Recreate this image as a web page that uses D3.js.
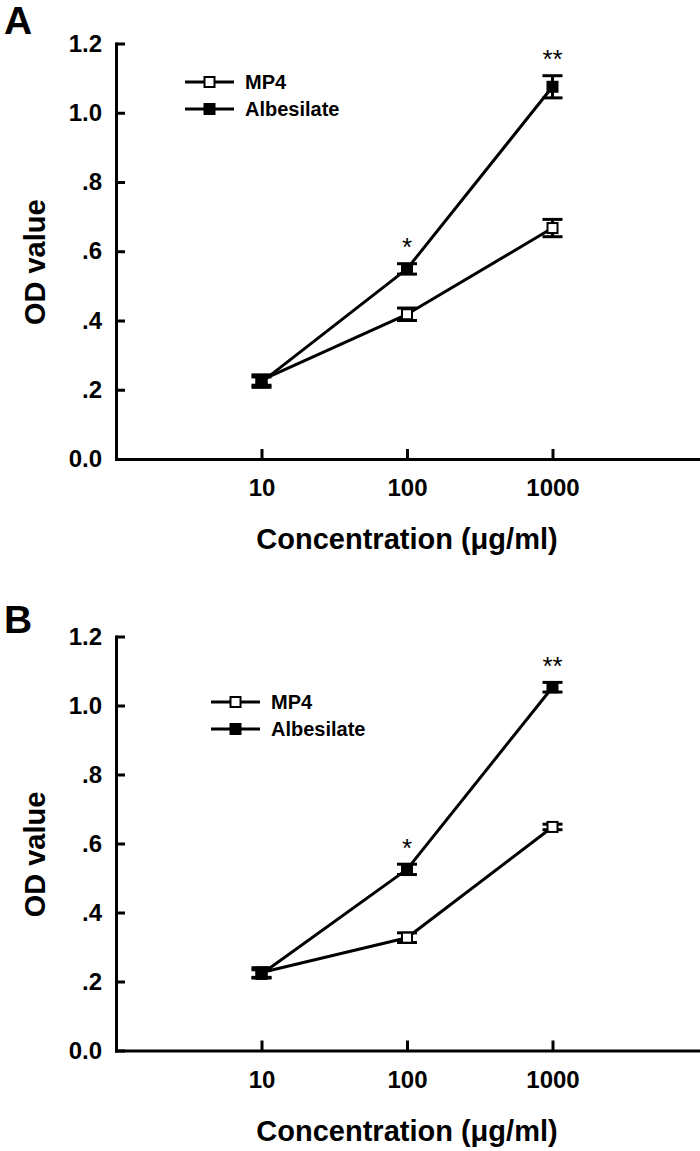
<!DOCTYPE html>
<html>
<head>
<meta charset="utf-8">
<script src="https://cdn.jsdelivr.net/npm/d3@7"></script>
<style>
  html, body { margin: 0; padding: 0; background: #fff; }
  svg { display: block; }
  text { font-family: "Liberation Sans", Arial, Helvetica, sans-serif; }
</style>
</head>
<body>
<svg id="chart" width="700" height="1151"></svg>
<script>
// ---------- data ----------
const concentrations = [10, 100, 1000];
const xTickValues = [10, 100, 1000];
const xTickLabels = ["10", "100", "1000"];
const yTickValues = [0, 0.2, 0.4, 0.6, 0.8, 1.0, 1.2];
const yTickLabels = ["0.0", ".2", ".4", ".6", ".8", "1.0", "1.2"];
const seriesNames = ["MP4", "Albesilate"];
const panelLabels = ["A", "B"];
const xTitle = "Concentration (\u03BCg/ml)";
const yTitle = "OD value";

// Panel A
const mp4A = [0.228, 0.418, 0.667];
const mp4ErrA = [0.015, 0.018, 0.025];
const albA = [0.222, 0.549, 1.075];
const albErrA = [0.015, 0.015, 0.032];
const sigA = ["", "*", "**"];

// Panel B
const mp4B = [0.226, 0.327, 0.648];
const mp4ErrB = [0.014, 0.014, 0.008];
const albB = [0.222, 0.525, 1.053];
const albErrB = [0.012, 0.015, 0.014];
const sigB = ["", "*", "**"];

// ---------- drawing ----------
const svg = d3.select("#chart");
const FONT = "Liberation Sans, Arial, Helvetica, sans-serif";

const panels = [
  { label: panelLabels[0], top: 43.5, bottom: 459, letterY: 34,
    legendX: 185, legendY: 82,
    mp4: mp4A, mp4Err: mp4ErrA, alb: albA, albErr: albErrA, sig: sigA },
  { label: panelLabels[1], top: 636.5, bottom: 1050.5, letterY: 633,
    legendX: 211, legendY: 702,
    mp4: mp4B, mp4Err: mp4ErrB, alb: albB, albErr: albErrB, sig: sigB }
];

const x = d3.scaleLog().domain([1, 10000]).range([116, 698]);

panels.forEach(p => {
  const g = svg.append("g");
  const y = d3.scaleLinear().domain([0, 1.2]).range([p.bottom, p.top]);

  // panel letter
  g.append("text")
    .attr("x", 4).attr("y", p.letterY)
    .attr("font-size", 39).attr("font-weight", "bold")
    .text(p.label);

  // y axis
  const yAxis = d3.axisLeft(y)
    .tickValues(yTickValues)
    .tickFormat((d, i) => yTickLabels[i])
    .tickSizeInner(-9).tickSizeOuter(0).tickPadding(14);
  const gy = g.append("g").attr("transform", `translate(${x.range()[0]},0)`).call(yAxis);

  // x axis
  const xAxis = d3.axisBottom(x)
    .tickValues(xTickValues)
    .tickFormat((d, i) => xTickLabels[i])
    .tickSizeInner(-10).tickSizeOuter(0).tickPadding(20);
  const gx = g.append("g").attr("transform", `translate(0,${p.bottom})`).call(xAxis);

  [gy, gx].forEach(ax => {
    ax.select(".domain").attr("stroke", "#000").attr("stroke-width", 3).attr("stroke-linecap", "square");
    ax.selectAll(".tick line").attr("stroke", "#000").attr("stroke-width", 3);
    ax.selectAll(".tick text")
      .attr("font-size", 24).attr("font-weight", "bold")
      .attr("font-family", FONT).attr("fill", "#000");
  });

  // axis titles
  g.append("text")
    .attr("x", 407).attr("y", p.bottom + 90)
    .attr("text-anchor", "middle")
    .attr("font-size", 29).attr("font-weight", "bold")
    .text(xTitle);
  g.append("text")
    .attr("transform", `translate(35,${(p.top + p.bottom) / 2 + 11}) rotate(-90)`)
    .attr("text-anchor", "middle").attr("dominant-baseline", "central")
    .attr("font-size", 29).attr("font-weight", "bold")
    .text(yTitle);

  const line = d3.line().x((d, i) => x(concentrations[i])).y(d => y(d));

  const series = [
    { vals: p.mp4, errs: p.mp4Err, fill: "#fff" },
    { vals: p.alb, errs: p.albErr, fill: "#000" }
  ];

  // lines
  series.forEach(s => {
    g.append("path").datum(s.vals)
      .attr("d", line).attr("fill", "none")
      .attr("stroke", "#000").attr("stroke-width", 3)
      .attr("stroke-linejoin", "round");
  });

  // error bars + markers
  series.forEach(s => {
    const eb = g.append("g");
    s.vals.forEach((v, i) => {
      const cx = x(concentrations[i]);
      const e = s.errs[i];
      eb.append("line").attr("x1", cx).attr("x2", cx)
        .attr("y1", y(v - e)).attr("y2", y(v + e))
        .attr("stroke", "#000").attr("stroke-width", 3);
      [v - e, v + e].forEach(c => {
        eb.append("line").attr("x1", cx - 10).attr("x2", cx + 10)
          .attr("y1", y(c)).attr("y2", y(c))
          .attr("stroke", "#000").attr("stroke-width", 3);
      });
    });
    g.selectAll(null).data(s.vals).enter().append("rect")
      .attr("x", (d, i) => x(concentrations[i]) - 5)
      .attr("y", d => y(d) - 5)
      .attr("width", 10).attr("height", 10)
      .attr("fill", s.fill).attr("stroke", "#000").attr("stroke-width", 2);
  });

  // significance stars
  p.sig.forEach((s, i) => {
    if (!s) return;
    g.append("text")
      .attr("x", x(concentrations[i]))
      .attr("y", y(p.alb[i] + p.albErr[i]) - 23)
      .attr("text-anchor", "middle").attr("dominant-baseline", "central")
      .attr("font-size", 26)
      .attr("dy", "0.25em")
      .text(s);
  });

  // legend
  const lg = g.append("g");
  seriesNames.forEach((name, i) => {
    const ly = p.legendY + i * 27;
    lg.append("line").attr("x1", p.legendX).attr("x2", p.legendX + 49)
      .attr("y1", ly).attr("y2", ly)
      .attr("stroke", "#000").attr("stroke-width", 3);
    lg.append("rect").attr("x", p.legendX + 24.5 - 5).attr("y", ly - 5)
      .attr("width", 10).attr("height", 10)
      .attr("fill", series[i].fill).attr("stroke", "#000").attr("stroke-width", 2);
    lg.append("text").attr("x", p.legendX + 60).attr("y", ly + 7)
      .attr("font-size", 20).attr("font-weight", "bold")
      .text(name);
  });
});
</script>
</body>
</html>
